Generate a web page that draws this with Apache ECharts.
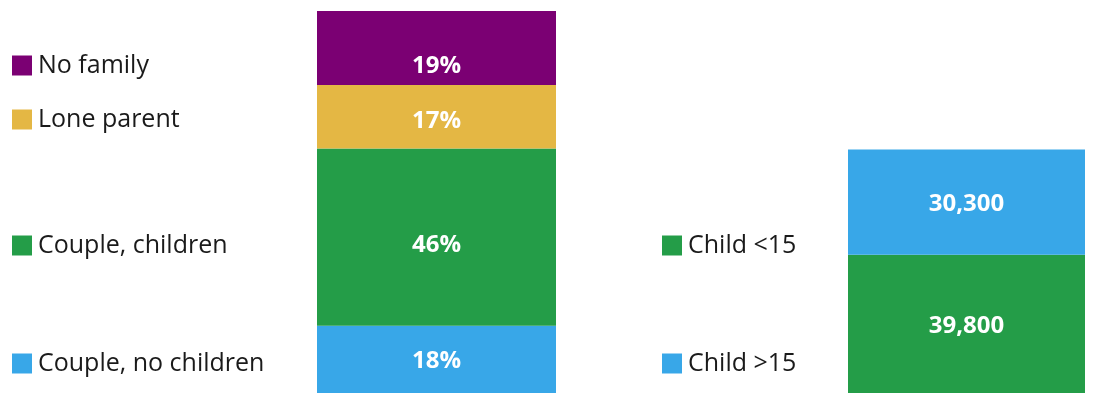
<!DOCTYPE html>
<html>
<head>
<meta charset="utf-8">
<script src="https://cdn.jsdelivr.net/npm/echarts@6/dist/echarts.min.js"></script>
<style>html,body{margin:0;padding:0;background:#fff}#c{width:1102px;height:394px}</style>
</head>
<body>
<div id="c"></div>
<script>
// Left bar: household type shares (%), bottom to top
const householdTypes = ['Couple, no children', 'Couple, children', 'Lone parent', 'No family'];
const householdShares = [17.6, 46.4, 16.6, 19.4];
// Right bar: children counts, bottom to top
const childGroups = ['Child <15', 'Child >15'];
const childCounts = [39800, 30300];

const householdColors = ['#38a7e8', '#249d48', '#e4b744', '#7b0073'];
const childColors = ['#249d48', '#38a7e8'];
const FONT = '"Open Sans"';

const labelOffsets = [[0, 2], [0, 8], [0, 4], [0, 18]];

const series = [];
householdTypes.forEach((name, i) => {
  series.push({
    name: name, type: 'bar', stack: 'h', xAxisIndex: 0, yAxisIndex: 0,
    barWidth: '100%',
    data: [householdShares[i]],
    itemStyle: { color: householdColors[i] },
    label: {
      show: true, position: 'inside', color: '#fff', fontFamily: FONT,
      fontWeight: 'bold', fontSize: 24, offset: labelOffsets[i],
      formatter: p => Math.round(p.value) + '%'
    }
  });
});
childGroups.forEach((name, i) => {
  series.push({
    name: name, type: 'bar', stack: 'c', xAxisIndex: 1, yAxisIndex: 1,
    barWidth: '100%',
    data: [childCounts[i]],
    itemStyle: { color: childColors[i] },
    label: {
      show: true, position: 'inside', color: '#fff', fontFamily: FONT,
      fontWeight: 'bold', fontSize: 24, offset: [0, 2],
      formatter: p => p.value.toLocaleString('en-US')
    }
  });
});

function legendItem(name, left, top) {
  return {
    data: [name], left: left, top: top, padding: 0, orient: 'vertical',
    icon: 'rect', itemWidth: 20, itemHeight: 20, itemGap: 0,
    selectedMode: false,
    textStyle: { fontFamily: FONT, fontSize: 25, color: '#1a1a1a', lineHeight: 20, padding: [0, 0, 0, 1] }
  };
}

const option = {
  animation: false,
  backgroundColor: '#fff',
  legend: [
    legendItem('No family', 12, 53),
    legendItem('Lone parent', 12, 107),
    legendItem('Couple, children', 12, 233),
    legendItem('Couple, no children', 12, 351),
    legendItem('Child <15', 662, 233),
    legendItem('Child >15', 662, 351)
  ],
  grid: [
    { left: 317, width: 239, top: 11, bottom: 1 },
    { left: 848, width: 237, top: 11, bottom: 1 }
  ],
  xAxis: [
    { type: 'category', gridIndex: 0, data: [''], show: false },
    { type: 'category', gridIndex: 1, data: [''], show: false }
  ],
  yAxis: [
    { type: 'value', gridIndex: 0, min: 0, max: 100, show: false },
    { type: 'value', gridIndex: 1, min: 0, max: 110000, show: false }
  ],
  series: series
};

const chart = echarts.init(document.getElementById('c'), null, { renderer: 'canvas' });
chart.setOption(option);
</script>
</body>
</html>
